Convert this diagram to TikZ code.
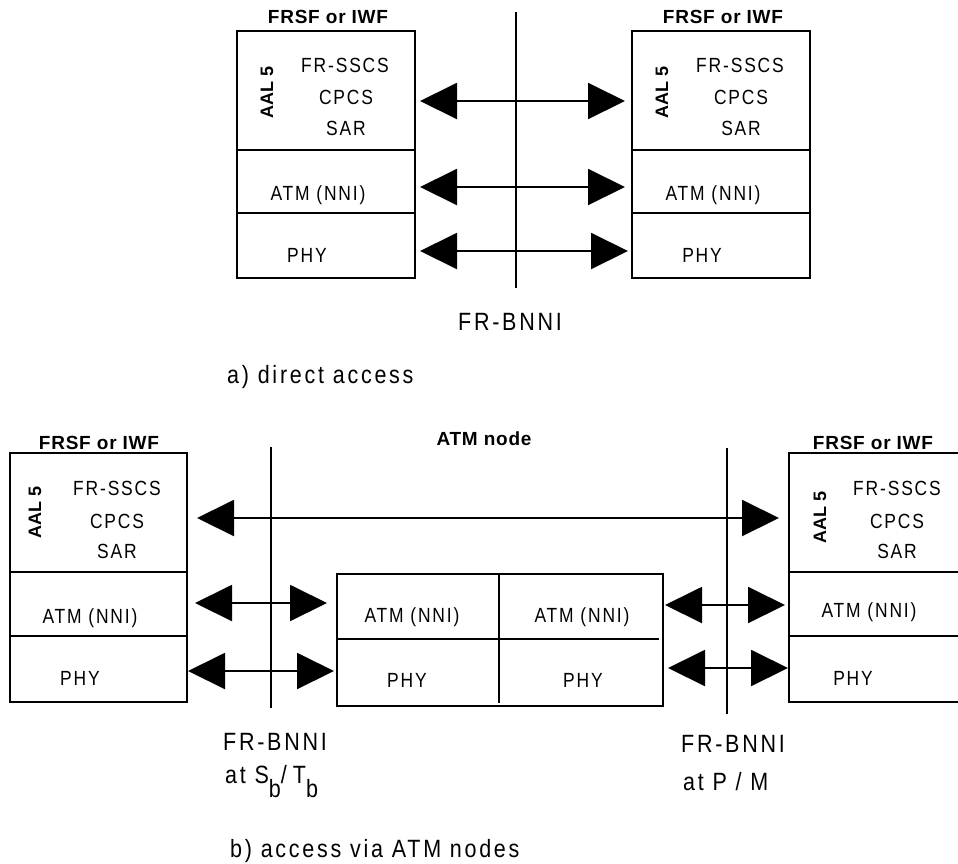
\documentclass[tikz,border=0pt]{standalone}
\usepackage{fontspec}
\setmainfont{Liberation Sans}
\newfontfamily\narrowfont[FakeStretch=0.85, LetterSpace=9]{Liberation Sans}
\newfontfamily\narrowbig[FakeStretch=0.86, LetterSpace=11]{Liberation Sans}
\newfontfamily\boldspaced[LetterSpace=4]{Liberation Sans Bold}
\usetikzlibrary{arrows.meta}
\begin{document}
\begin{tikzpicture}[x=1pt,y=-1pt,
  layer/.style={draw, line width=2pt, inner sep=0pt, rectangle},
  lbl/.style={anchor=base, inner sep=0pt, font=\narrowfont\fontsize{20.5}{24}\selectfont},
  blbl/.style={anchor=base, inner sep=0pt, font=\boldspaced\fontsize{19}{22}\selectfont},
  aal/.style={rotate=90, inner sep=0pt, font=\fontsize{18}{20}\selectfont\bfseries},
  big/.style={anchor=base, inner sep=0pt, font=\narrowbig\fontsize{25}{29}\selectfont},
  biarrow/.style={line width=2pt, {Triangle[length=37pt,width=36pt]}-{Triangle[length=37pt,width=36pt]}},
  iface/.style={line width=2pt}]
\clip (0,0) rectangle (958,863);
\fill[white] (0,0) rectangle (958,863);

% ---------- a) direct access ----------
\node[layer, minimum width=178pt, minimum height=119pt] (tlA) at (326,90.5) {};
\node[layer, minimum width=178pt, minimum height=63pt] (tlB) at (326,181.5) {};
\node[layer, minimum width=178pt, minimum height=65pt] (tlC) at (326,245.5) {};
\node[layer, minimum width=178pt, minimum height=119pt] (trA) at (721,90.5) {};
\node[layer, minimum width=178pt, minimum height=63pt] (trB) at (721,181.5) {};
\node[layer, minimum width=178pt, minimum height=65pt] (trC) at (721,245.5) {};

\node[blbl] (tlT) at (328,23) {FRSF or IWF};
\node[blbl] (trT) at (723,23) {FRSF or IWF};
\node[aal] (tlAAL) at (267,92) {AAL 5};
\node[aal] (trAAL) at (662,92) {AAL 5};
\node[lbl] (tl1) at (345,72) {FR-SSCS};
\node[lbl] (tl2) at (346,104) {CPCS};
\node[lbl] (tl3) at (346,135) {SAR};
\node[lbl] (tl4) at (318,200) {ATM (NNI)};
\node[lbl] (tl5) at (307,262) {PHY};
\node[lbl] (tr1) at (740,72) {FR-SSCS};
\node[lbl] (tr2) at (741,104) {CPCS};
\node[lbl] (tr3) at (741,135) {SAR};
\node[lbl] (tr4) at (713,200) {ATM (NNI)};
\node[lbl] (tr5) at (702,262) {PHY};

\coordinate (tv1) at (516,12);
\coordinate (tv2) at (516,288);
\draw[iface] (tv1) -- (tv2);
\coordinate (ta1l) at (420,101); \coordinate (ta1r) at (625,101);
\coordinate (ta2l) at (420,187); \coordinate (ta2r) at (625,187);
\coordinate (ta3l) at (420,251); \coordinate (ta3r) at (628,251);
\draw[biarrow] (ta1l) -- (ta1r);
\draw[biarrow] (ta2l) -- (ta2r);
\draw[biarrow] (ta3l) -- (ta3r);

\node[big] (tbnni) at (510,330) {FR-BNNI};
\node[big, anchor=base west] (capa) at (227,383) {a) direct access};

% ---------- b) access via ATM nodes ----------
\node[layer, minimum width=177pt, minimum height=119pt] (blA) at (98.5,512.5) {};
\node[layer, minimum width=177pt, minimum height=64pt] (blB) at (98.5,604) {};
\node[layer, minimum width=177pt, minimum height=66pt] (blC) at (98.5,669) {};
\node[layer, minimum width=186pt, minimum height=119pt] (brA) at (882,512.5) {};
\node[layer, minimum width=186pt, minimum height=64pt] (brB) at (882,604) {};
\node[layer, minimum width=186pt, minimum height=66pt] (brC) at (882,669) {};

\node[blbl] (blT) at (99,449) {FRSF or IWF};
\node[blbl] (brT) at (873,449) {FRSF or IWF};
\node[blbl] (midT) at (484,445) {ATM node};
\node[aal] (blAAL) at (35,512) {AAL 5};
\node[aal] (brAAL) at (820,517) {AAL 5};
\node[lbl] (bl1) at (117,495) {FR-SSCS};
\node[lbl] (bl2) at (117,528) {CPCS};
\node[lbl] (bl3) at (117,558) {SAR};
\node[lbl] (bl4) at (90,623) {ATM (NNI)};
\node[lbl] (bl5) at (80,685) {PHY};
\node[lbl] (br1) at (897,495) {FR-SSCS};
\node[lbl] (br2) at (897,528) {CPCS};
\node[lbl] (br3) at (897,558) {SAR};
\node[lbl] (br4) at (869,617) {ATM (NNI)};
\node[lbl] (br5) at (853,685) {PHY};

% middle ATM node box
\node[layer, minimum width=326pt, minimum height=132pt] (mid) at (500,640) {};
\coordinate (mh1) at (337,639); \coordinate (mh2) at (659,639);
\coordinate (mv1) at (499,574); \coordinate (mv2) at (499,703);
\draw[line width=2pt] (mh1) -- (mh2);
\draw[line width=2pt] (mv1) -- (mv2);
\node[lbl] (m1) at (412,622) {ATM (NNI)};
\node[lbl] (m2) at (582,622) {ATM (NNI)};
\node[lbl] (m3) at (407,687) {PHY};
\node[lbl] (m4) at (583,687) {PHY};

\coordinate (bv1a) at (271,447); \coordinate (bv1b) at (271,708);
\coordinate (bv2a) at (727,448); \coordinate (bv2b) at (727,714);
\draw[iface] (bv1a) -- (bv1b);
\draw[iface] (bv2a) -- (bv2b);

\coordinate (ba1l) at (197,518); \coordinate (ba1r) at (779,518);
\coordinate (ba2l) at (195,603); \coordinate (ba2r) at (327,603);
\coordinate (ba3l) at (188,671); \coordinate (ba3r) at (334,671);
\coordinate (ba4l) at (665,605); \coordinate (ba4r) at (785,605);
\coordinate (ba5l) at (668,668); \coordinate (ba5r) at (788,668);
\draw[biarrow] (ba1l) -- (ba1r);
\draw[biarrow] (ba2l) -- (ba2r);
\draw[biarrow] (ba3l) -- (ba3r);
\draw[biarrow] (ba4l) -- (ba4r);
\draw[biarrow] (ba5l) -- (ba5r);

\node[big] (bbnni1) at (275,750) {FR-BNNI};
\node[big, anchor=base west] (bat1) at (225,783) {at S\raisebox{-14pt}{b}/\hspace{6pt}T\raisebox{-14pt}{b}};
\node[big] (bbnni2) at (733,752) {FR-BNNI};
\node[big, anchor=base west] (bat2) at (683,790) {at P / M};
\node[big, anchor=base west] (capb) at (230,857) {b) access via ATM nodes};
\end{tikzpicture}
\end{document}
